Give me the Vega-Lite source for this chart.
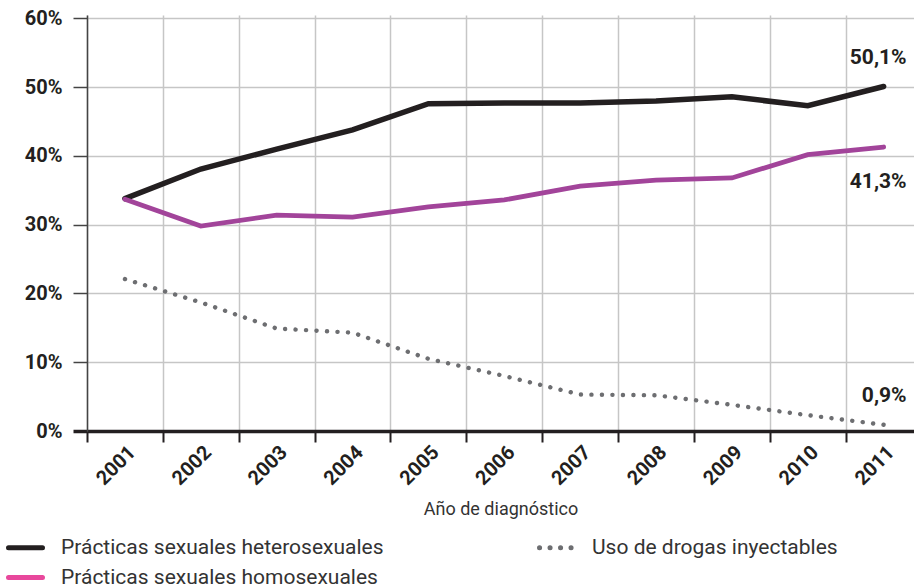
{
  "$schema": "https://vega.github.io/schema/vega-lite/v6.json",
  "width": 827,
  "height": 416,
  "autosize": {"type": "none"},
  "padding": {"left": 87, "top": 15, "right": 0, "bottom": 153},
  "background": "white",
  "config": {
    "view": {"stroke": null},
    "font": "Roboto"
  },
  "data": {
    "values": [
      {"serie": "Prácticas sexuales heterosexuales", "year": 2001, "value": 33.8},
      {"serie": "Prácticas sexuales heterosexuales", "year": 2002, "value": 38.1},
      {"serie": "Prácticas sexuales heterosexuales", "year": 2003, "value": 41.0},
      {"serie": "Prácticas sexuales heterosexuales", "year": 2004, "value": 43.8},
      {"serie": "Prácticas sexuales heterosexuales", "year": 2005, "value": 47.6},
      {"serie": "Prácticas sexuales heterosexuales", "year": 2006, "value": 47.7},
      {"serie": "Prácticas sexuales heterosexuales", "year": 2007, "value": 47.7},
      {"serie": "Prácticas sexuales heterosexuales", "year": 2008, "value": 48.0},
      {"serie": "Prácticas sexuales heterosexuales", "year": 2009, "value": 48.6},
      {"serie": "Prácticas sexuales heterosexuales", "year": 2010, "value": 47.3},
      {"serie": "Prácticas sexuales heterosexuales", "year": 2011, "value": 50.1},
      {"serie": "Prácticas sexuales homosexuales", "year": 2001, "value": 33.7},
      {"serie": "Prácticas sexuales homosexuales", "year": 2002, "value": 29.8},
      {"serie": "Prácticas sexuales homosexuales", "year": 2003, "value": 31.4},
      {"serie": "Prácticas sexuales homosexuales", "year": 2004, "value": 31.1},
      {"serie": "Prácticas sexuales homosexuales", "year": 2005, "value": 32.6},
      {"serie": "Prácticas sexuales homosexuales", "year": 2006, "value": 33.6},
      {"serie": "Prácticas sexuales homosexuales", "year": 2007, "value": 35.6},
      {"serie": "Prácticas sexuales homosexuales", "year": 2008, "value": 36.5},
      {"serie": "Prácticas sexuales homosexuales", "year": 2009, "value": 36.8},
      {"serie": "Prácticas sexuales homosexuales", "year": 2010, "value": 40.2},
      {"serie": "Prácticas sexuales homosexuales", "year": 2011, "value": 41.3},
      {"serie": "Uso de drogas inyectables", "year": 2001, "value": 22.1},
      {"serie": "Uso de drogas inyectables", "year": 2002, "value": 18.7},
      {"serie": "Uso de drogas inyectables", "year": 2003, "value": 14.9},
      {"serie": "Uso de drogas inyectables", "year": 2004, "value": 14.3},
      {"serie": "Uso de drogas inyectables", "year": 2005, "value": 10.5},
      {"serie": "Uso de drogas inyectables", "year": 2006, "value": 8.0},
      {"serie": "Uso de drogas inyectables", "year": 2007, "value": 5.3},
      {"serie": "Uso de drogas inyectables", "year": 2008, "value": 5.2},
      {"serie": "Uso de drogas inyectables", "year": 2009, "value": 3.8},
      {"serie": "Uso de drogas inyectables", "year": 2010, "value": 2.3},
      {"serie": "Uso de drogas inyectables", "year": 2011, "value": 0.9}
    ]
  },
  "encoding": {
    "x": {
      "field": "year",
      "type": "quantitative",
      "scale": {"domain": [2000.5, 2011.4], "nice": false, "zero": false},
      "axis": {
        "title": "Año de diagnóstico",
        "titleFont": "Roboto",
        "titleFontSize": 18,
        "titleFontWeight": "normal",
        "titleColor": "#333333",
        "titleY": 83,
        "titleBaseline": "alphabetic",
        "values": [2000.5, 2001, 2001.5, 2002, 2002.5, 2003, 2003.5, 2004, 2004.5, 2005, 2005.5, 2006, 2006.5, 2007, 2007.5, 2008, 2008.5, 2009, 2009.5, 2010, 2010.5, 2011],
        "labelExpr": "datum.value % 1 === 0 ? '' + datum.value : ''",
        "labelOverlap": false,
        "labelAngle": -45,
        "labelAlign": "right",
        "labelBaseline": "middle",
        "labelPadding": 7,
        "labelOffset": 7,
        "labelFont": "Roboto",
        "labelFontSize": 20,
        "labelFontWeight": "bold",
        "labelColor": "#231f20",
        "labelFlush": false,
        "domainColor": "#231f20",
        "domainWidth": 3.5,
        "tickColor": "#231f20",
        "tickWidth": 2,
        "tickSize": 11,
        "tickOpacity": {"condition": {"test": "datum.value % 1 === 0", "value": 0}, "value": 1},
        "grid": true,
        "gridColor": "#c6c6c6",
        "gridWidth": 1.5,
        "gridOpacity": {"condition": {"test": "datum.value % 1 === 0", "value": 0}, "value": 1}
      }
    },
    "y": {
      "field": "value",
      "type": "quantitative",
      "scale": {"domain": [0, 60.5], "nice": false},
      "axis": {
        "title": null,
        "values": [0, 10, 20, 30, 40, 50, 60],
        "labelExpr": "datum.value + '%'",
        "labelFont": "Roboto",
        "labelFontSize": 20,
        "labelFontWeight": "bold",
        "labelColor": "#231f20",
        "labelPadding": 11,
        "labelFlush": false,
        "domainColor": "#444444",
        "domainWidth": 1.5,
        "tickColor": {"condition": {"test": "datum.value === 0", "value": "#231f20"}, "value": "#444444"},
        "tickWidth": {"condition": {"test": "datum.value === 0", "value": 3.5}, "value": 1.5},
        "tickSize": 14,
        "grid": true,
        "gridColor": "#c6c6c6",
        "gridWidth": 1.5
      }
    }
  },
  "layer": [
    {
      "transform": [{"filter": "datum.serie !== 'Uso de drogas inyectables'"}],
      "mark": {"type": "line", "strokeCap": "round", "strokeJoin": "miter"},
      "encoding": {
        "stroke": {
          "field": "serie",
          "type": "nominal",
          "scale": {
            "domain": ["Prácticas sexuales heterosexuales", "Prácticas sexuales homosexuales"],
            "range": ["#231f20", "#a2449a"]
          },
          "legend": null
        },
        "strokeWidth": {
          "field": "serie",
          "type": "nominal",
          "scale": {
            "domain": ["Prácticas sexuales heterosexuales", "Prácticas sexuales homosexuales"],
            "range": [5.5, 4.8]
          },
          "legend": null
        }
      }
    },
    {
      "transform": [{"filter": "datum.serie === 'Uso de drogas inyectables'"}],
      "mark": {"type": "line", "strokeCap": "round", "strokeDash": [0.1, 10.4], "strokeWidth": 4.4, "stroke": "#6d6e71"},
      "encoding": {}
    },
    {
      "transform": [{"filter": "false"}],
      "mark": {"type": "line", "strokeCap": "round", "strokeWidth": 5},
      "encoding": {
        "color": {
          "field": "serie",
          "type": "nominal",
          "scale": {
            "domain": ["Prácticas sexuales heterosexuales", "Uso de drogas inyectables", "Prácticas sexuales homosexuales"],
            "range": ["#231f20", "#6d6e71", "#e8489c"]
          },
          "legend": {
            "title": null,
            "orient": "none",
            "legendX": -81,
            "legendY": 513,
            "direction": "horizontal",
            "columns": 2,
            "columnPadding": 145,
            "rowPadding": -15,
            "symbolType": "stroke",
            "symbolSize": 1156,
            "symbolStrokeWidth": 5,
            "labelFont": "Roboto",
            "labelFontSize": 21,
            "labelColor": "#333333",
            "labelOffset": 16,
            "labelLimit": 500,
            "encode": {
              "symbols": {
                "update": {
                  "strokeCap": {"value": "round"}
                }
              }
            }
          }
        },
        "strokeDash": {
          "field": "serie",
          "type": "nominal",
          "scale": {
            "domain": ["Prácticas sexuales heterosexuales", "Uso de drogas inyectables", "Prácticas sexuales homosexuales"],
            "range": [[1, 0], [0.1, 10.4], [1, 0]]
          }
        }
      }
    },
    {
      "transform": [
        {"filter": "datum.year === 2011 && datum.serie !== 'Prácticas sexuales homosexuales'"},
        {"calculate": "replace(format(datum.value, '.1f'), '.', ',') + '%'", "as": "etiqueta"}
      ],
      "mark": {"type": "text", "font": "Roboto", "fontSize": 21, "fontWeight": "bold", "color": "#231f20", "align": "right", "baseline": "middle", "dx": 23, "dy": -29},
      "encoding": {"text": {"field": "etiqueta"}}
    },
    {
      "transform": [
        {"filter": "datum.year === 2011 && datum.serie === 'Prácticas sexuales homosexuales'"},
        {"calculate": "replace(format(datum.value, '.1f'), '.', ',') + '%'", "as": "etiqueta"}
      ],
      "mark": {"type": "text", "font": "Roboto", "fontSize": 21, "fontWeight": "bold", "color": "#231f20", "align": "right", "baseline": "middle", "dx": 23, "dy": 35},
      "encoding": {"text": {"field": "etiqueta"}}
    }
  ]
}
